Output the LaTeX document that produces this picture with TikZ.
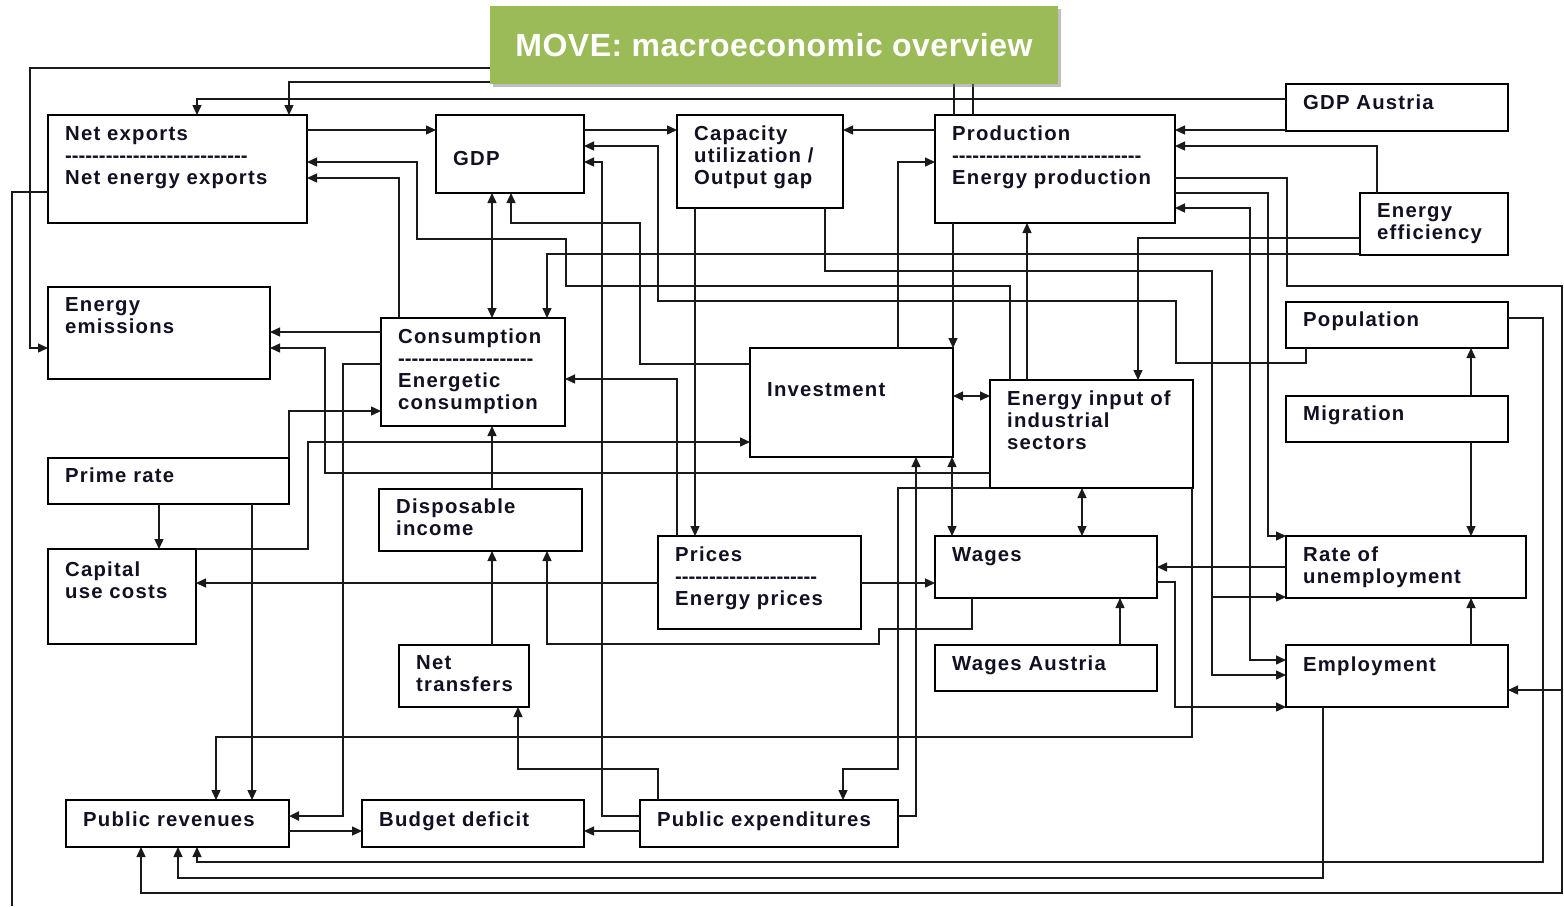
\documentclass[tikz,border=0pt]{standalone}
\usepackage{fontspec}
\newfontfamily\lab{Liberation Sans}[LetterSpace=6]
\newfontfamily\ttl{Liberation Sans}[LetterSpace=1.5]
\usetikzlibrary{arrows.meta,shadows}
\definecolor{movegreen}{HTML}{9BBB59}
\definecolor{txt}{HTML}{111122}
\definecolor{ln}{HTML}{1A1A1A}
\newcommand\dl[1]{\foreach \i in {1,...,#1}{-\kern0pt}}
\tikzset{
 box/.style={draw=black, line width=2.4pt, fill=white, anchor=north west, inner sep=0pt, outer sep=0pt},
 lbl/.style={anchor=north west, inner sep=0pt, align=left, text=txt, font=\lab\bfseries\fontsize{20.3}{22}\selectfont},
 con/.style={draw=ln, line width=1.4pt},
 arr/.style={con, -{Triangle[length=10pt,width=9pt]}},
 darr/.style={con, {Triangle[length=10pt,width=9pt]}-{Triangle[length=10pt,width=9pt]}},
 title/.style={fill=movegreen, minimum width=568pt, minimum height=78pt, inner sep=0pt, text=white,
   font=\ttl\bfseries\fontsize{32}{38}\selectfont,
   drop shadow={shadow xshift=2.5pt, shadow yshift=-2.5pt, fill=black!50, opacity=0.5}},
}
\newcommand\mybox[7]{%
 \node[box, minimum width={#4-#2}, minimum height={#5-#3}] (#1) at (#2,#3) {};
 \node[lbl] (#1-t) at (#2+17,#6-16) {\rule{0pt}{16pt}#7};}
\begin{document}
\begin{tikzpicture}[x=1pt,y=-1pt]
\path[use as bounding box, fill=white] (0,0) rectangle (1564,906);
\mybox{netx}{48}{115}{307}{223}{140}{Net exports\\\dl{27}\\Net energy exports}
\mybox{gdp}{436}{115}{584}{193}{165}{GDP}
\mybox{cap}{677}{115}{843}{208}{140}{Capacity\\utilization /\\Output gap}
\mybox{prod}{935}{115}{1175}{223}{140}{Production\\\dl{28}\\Energy production}
\mybox{gdpa}{1286}{84}{1508}{131}{109}{GDP Austria}
\mybox{eeff}{1360}{193}{1508}{255}{217}{Energy\\efficiency}
\mybox{emis}{48}{287}{270}{379}{311}{Energy\\emissions}
\mybox{cons}{381}{318}{565}{426}{343}{Consumption\\\dl{20}\\Energetic\\consumption}
\mybox{inv}{750}{348}{953}{457}{396}{Investment}
\mybox{einp}{990}{380}{1193}{488}{405}{Energy input of\\industrial\\sectors}
\mybox{pop}{1286}{302}{1508}{348}{326}{Population}
\mybox{migr}{1286}{396}{1508}{442}{420}{Migration}
\mybox{prime}{48}{458}{289}{504}{482}{Prime rate}
\mybox{disp}{379}{489}{582}{551}{513}{Disposable\\income}
\mybox{capc}{48}{549}{196}{644}{576}{Capital\\use costs}
\mybox{prices}{658}{536}{861}{629}{561}{Prices\\\dl{21}\\Energy prices}
\mybox{wages}{935}{536}{1157}{598}{561}{Wages}
\mybox{rate}{1286}{536}{1526}{598}{561}{Rate of\\unemployment}
\mybox{wagesa}{935}{645}{1157}{691}{670}{Wages Austria}
\mybox{empl}{1286}{645}{1508}{707}{671}{Employment}
\mybox{nett}{399}{645}{529}{707}{669}{Net\\transfers}
\mybox{pubr}{66}{800}{289}{847}{826}{Public revenues}
\mybox{bud}{362}{800}{584}{847}{826}{Budget deficit}
\mybox{pubx}{640}{800}{898}{847}{826}{Public expenditures}
\coordinate (offb) at (12,906);
% connectors
\draw[arr] (prod.north -| 973,0) -- (973,68) -- (30,68) -- (30,348) -- (emis.west |- 0,348);
\draw[arr] (prod.north -| 954,0) -- (954,82) -- (289,82) -- (netx.north -| 289,0);
\draw[arr] (prod.south -| 953,0) -- (inv.north -| 953,0);
\draw[arr] (gdpa.west |- 0,99) -- (197,99) -- (netx.north -| 197,0);
\draw[arr] (gdpa.west |- 0,130) -- (prod.east |- 0,130);
\draw[arr] (netx.east |- 0,130) -- (gdp.west |- 0,130);
\draw[arr] (gdp.east |- 0,130) -- (cap.west |- 0,130);
\draw[arr] (prod.west |- 0,130) -- (cap.east |- 0,130);
\draw[arr] (einp.north -| 1010,0) -- (1010,286) -- (566,286) -- (566,239) -- (417,239) -- (417,162) -- (netx.east |- 0,162);
\draw[arr] (cons.north -| 399,0) -- (399,178) -- (netx.east |- 0,178);
\draw[darr] (gdp.south -| 492,0) -- (cons.north -| 492,0);
\draw[arr] (inv.west |- 0,364) -- (640,364) -- (640,223) -- (511,223) -- (gdp.south -| 511,0);
\draw[arr] (pop.south -| 1306,0) -- (1306,363) -- (1176,363) -- (1176,301) -- (658,301) -- (658,146) -- (gdp.east |- 0,146);
\draw[arr] (pubx.west |- 0,816) -- (602,816) -- (602,162) -- (gdp.east |- 0,162);
\draw[arr] (inv.north -| 898,0) -- (898,162) -- (prod.west |- 0,162);
\draw[arr] (cap.south -| 695,0) -- (prices.north -| 695,0);
\draw[arr] (cap.south -| 825,0) -- (825,271) -- (1212,271) -- (1212,675) -- (empl.west |- 0,675);
\draw[arr] (cap.south -| 825,0) -- (825,271) -- (1212,271) -- (1212,597) -- (rate.west |- 0,597);
\draw[arr] (einp.north -| 1027,0) -- (prod.south -| 1027,0);
\draw[arr] (eeff.north -| 1377,0) -- (1377,146) -- (prod.east |- 0,146);
\draw[arr] (prod.east |- 0,178) -- (1287,178) -- (1287,286) -- (1562,286) -- (1562,690) -- (empl.east |- 0,690);
\draw[arr] (prod.east |- 0,178) -- (1287,178) -- (1287,286) -- (1562,286) -- (1562,893) -- (141,893) -- (pubr.south -| 141,0);
\draw[arr] (prod.east |- 0,193) -- (1268,193) -- (1268,536) -- (rate.west |- 0,536);
\draw[darr] (prod.east |- 0,208) -- (1250,208) -- (1250,660) -- (empl.west |- 0,660);
\draw[arr] (eeff.west |- 0,238) -- (1138,238) -- (einp.north -| 1138,0);
\draw[arr] (eeff.west |- 0,254) -- (547,254) -- (cons.north -| 547,0);
\draw[arr] (cons.west |- 0,332) -- (emis.east |- 0,332);
\draw[arr] (einp.west |- 0,473) -- (325,473) -- (325,348) -- (emis.east |- 0,348);
\draw[arr] (prime.north east) -- (289,411) -- (cons.west |- 0,411);
\draw[arr] (capc.north east) -- (308,549) -- (308,442) -- (inv.west |- 0,442);
\draw[arr] (prime.south -| 159,0) -- (capc.north -| 159,0);
\draw[arr] (prime.south -| 252,0) -- (pubr.north -| 252,0);
\draw[arr, line width=2.4pt] (cons.west |- 0,364) -- (343,364) -- (343,816) -- (pubr.east |- 0,816);
\draw[arr] (prices.west |- 0,583) -- (capc.east |- 0,583);
\draw[arr] (prices.north -| 677,0) -- (677,379) -- (cons.east |- 0,379);
\draw[arr] (disp.north -| 492,0) -- (cons.south -| 492,0);
\draw[arr] (nett.north -| 492,0) -- (disp.south -| 492,0);
\draw[arr] (wages.south -| 972,0) -- (972,629) -- (879,629) -- (879,644) -- (547,644) -- (disp.south -| 547,0);
\draw[darr] (inv.east |- 0,396) -- (einp.west |- 0,396);
\draw[darr] (inv.south -| 952,0) -- (wages.north -| 952,0);
\draw[arr] (pubx.east |- 0,816) -- (916,816) -- (inv.south -| 916,0);
\draw[arr] (einp.west |- 0,488) -- (898,488) -- (898,769) -- (843,769) -- (pubx.north -| 843,0);
\draw[darr] (einp.south -| 1082,0) -- (wages.north -| 1082,0);
\draw[arr] (rate.west |- 0,567) -- (wages.east |- 0,567);
\draw[arr] (wages.east |- 0,582) -- (1175,582) -- (1175,707) -- (empl.west |- 0,707);
\draw[arr] (wagesa.north -| 1120,0) -- (wages.south -| 1120,0);
\draw[arr] (migr.north -| 1471,0) -- (pop.south -| 1471,0);
\draw[arr] (migr.south -| 1471,0) -- (rate.north -| 1471,0);
\draw[arr] (empl.north -| 1471,0) -- (rate.south -| 1471,0);
\draw[arr] (einp.south -| 1192,0) -- (1192,737) -- (216,737) -- (pubr.north -| 216,0);
\draw[arr] (pop.east |- 0,318) -- (1543,318) -- (1543,862) -- (197,862) -- (pubr.south -| 197,0);
\draw[arr] (empl.south -| 1323,0) -- (1323,878) -- (178,878) -- (pubr.south -| 178,0);
\draw[arr] (pubr.east |- 0,831) -- (bud.west |- 0,831);
\draw[arr] (pubx.west |- 0,831) -- (bud.east |- 0,831);
\draw[arr] (pubx.north -| 658,0) -- (658,769) -- (518,769) -- (nett.south -| 518,0);
\draw[con] (netx.west |- 0,192) -- (12,192) -- (offb);
\draw[arr] (prices.east |- 0,583) -- (wages.west |- 0,583);
% title on top
\node[title] (title) at (774,45) {MOVE: macroeconomic overview};
\end{tikzpicture}
\end{document}
